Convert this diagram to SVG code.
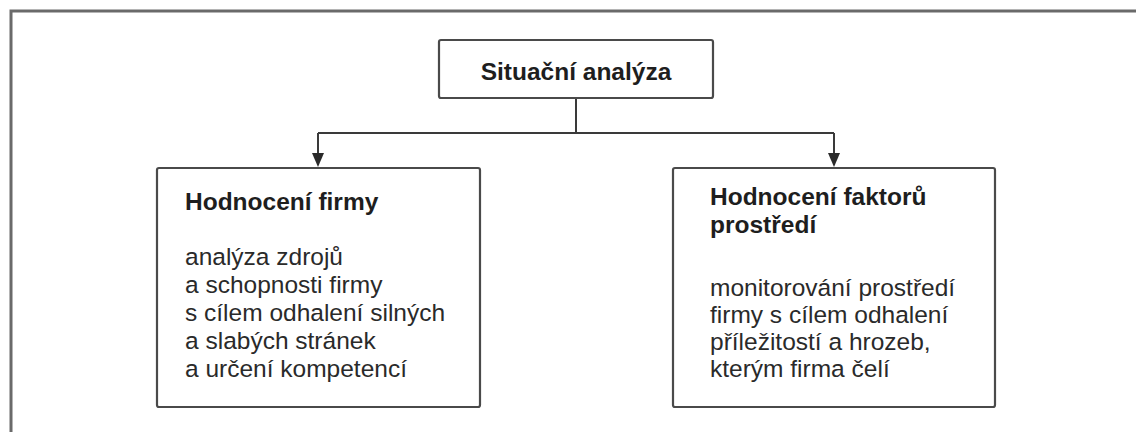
<svg xmlns="http://www.w3.org/2000/svg" width="1136" height="432" viewBox="0 0 1136 432">
  <defs>
    <style>
      .frame { fill: none; stroke: #6a6a6a; stroke-width: 3; }
      .box { fill: #ffffff; stroke: #4a4a4a; stroke-width: 2.2; }
      .conn { fill: none; stroke: #3a3a3a; stroke-width: 2; }
      .title { font-family: "Liberation Sans", Arial, sans-serif; font-weight: bold; font-size: 24.5px; fill: #1e1e1e; }
      .body { font-family: "Liberation Sans", Arial, sans-serif; font-size: 24.5px; fill: #2a2a2a; }
    </style>
    <marker id="arrow" viewBox="0 0 12 14" refX="6" refY="14" markerWidth="12" markerHeight="14" markerUnits="userSpaceOnUse" orient="auto-start-reverse">
      <path d="M0,0 L12,0 L6,14 Z" fill="#2a2a2a"/>
    </marker>
  </defs>
  <rect width="1136" height="432" fill="#ffffff"/>
  <g id="frame">
    <path class="frame" d="M11,432 L11,11 L1136,11"/>
  </g>
  <g id="connectors">
    <path class="conn" d="M576,98 L576,133"/>
    <path class="conn" d="M318,133 L834,133"/>
    <path d="M318,133 L318,153" class="conn"/>
    <path d="M834,133 L834,153" class="conn"/>
    <path d="M312,153 L324,153 L318,167 Z" fill="#2a2a2a"/>
    <path d="M828,153 L840,153 L834,167 Z" fill="#2a2a2a"/>
  </g>
  <g id="situacni-analyza">
    <rect class="box" x="439" y="40" width="274" height="58" rx="2"/>
    <text class="title" x="576" y="80" text-anchor="middle">Situační analýza</text>
  </g>
  <g id="hodnoceni-firmy">
    <rect class="box" x="157" y="168" width="323" height="239" rx="2"/>
    <text class="title" x="185" y="210">Hodnocení firmy</text>
    <text class="body" x="185" y="265">analýza zdrojů</text>
    <text class="body" x="185" y="293">a schopnosti firmy</text>
    <text class="body" x="185" y="321">s cílem odhalení silných</text>
    <text class="body" x="185" y="349">a slabých stránek</text>
    <text class="body" x="185" y="377">a určení kompetencí</text>
  </g>
  <g id="hodnoceni-faktoru">
    <rect class="box" x="673" y="168" width="322" height="239" rx="2"/>
    <text class="title" x="710" y="205">Hodnocení faktorů</text>
    <text class="title" x="710" y="233">prostředí</text>
    <text class="body" x="710" y="296">monitorování prostředí</text>
    <text class="body" x="710" y="323">firmy s cílem odhalení</text>
    <text class="body" x="710" y="350">příležitostí a hrozeb,</text>
    <text class="body" x="710" y="377">kterým firma čelí</text>
  </g>
</svg>
